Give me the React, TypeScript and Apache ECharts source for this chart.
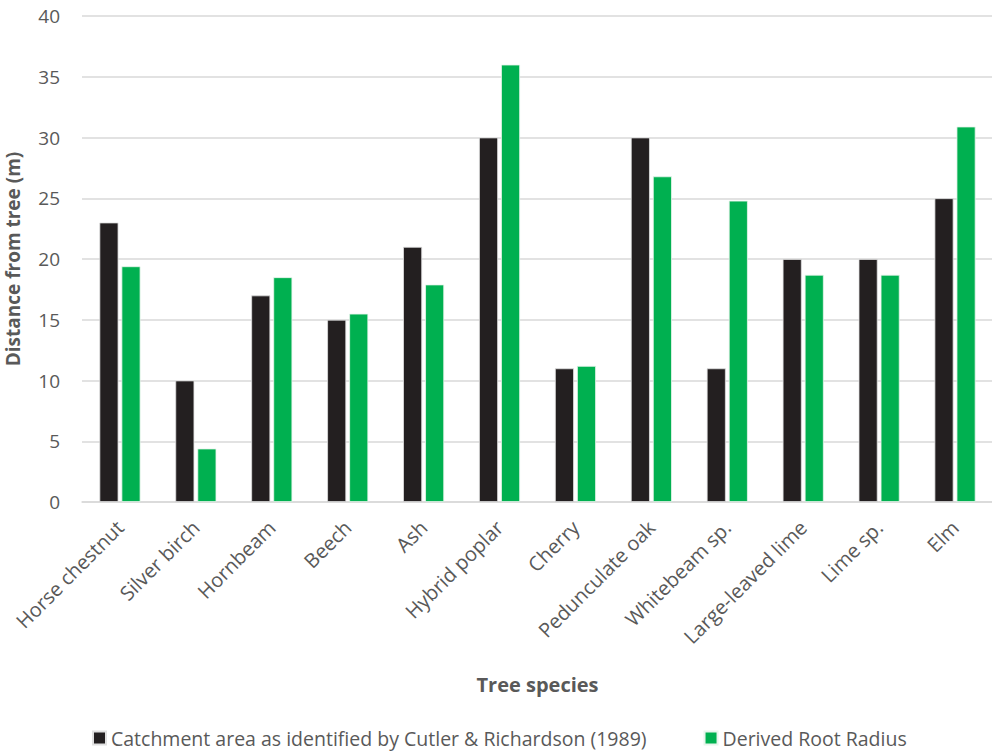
import React, { useEffect, useRef } from "react";
import * as echarts from "echarts";

const categories = [
  "Horse chestnut",
  "Silver birch",
  "Hornbeam",
  "Beech",
  "Ash",
  "Hybrid poplar",
  "Cherry",
  "Pedunculate oak",
  "Whitebeam sp.",
  "Large-leaved lime",
  "Lime sp.",
  "Elm",
];
const catchmentValues = [23, 10, 17, 15, 21, 30, 11, 30, 11, 20, 20, 25];
const rootRadiusValues = [19.4, 4.4, 18.5, 15.5, 17.9, 36.0, 11.2, 26.8, 24.8, 18.7, 18.7, 30.9];
const seriesNames = [
  "Catchment area as identified by Cutler & Richardson (1989)",
  "Derived Root Radius",
];

const FONT = "'Open Sans', 'Noto Sans', sans-serif";
const GRAY = "#595959";

export default function App() {
  const ref = useRef<HTMLDivElement>(null);
  useEffect(() => {
    document.body.style.margin = "0";
    if (!ref.current) return;
    const chart = echarts.init(ref.current, undefined, { renderer: "svg" });
    chart.setOption({
      animation: false,
      textStyle: { fontFamily: FONT },
      grid: { left: 82, right: -1, top: 16, bottom: 252, outerBoundsMode: "none", containLabel: false },
      legend: {
        bottom: 1,
        left: 87,
        icon: "rect",
        itemWidth: 13,
        itemHeight: 13,
        itemGap: 57,
        textStyle: { fontFamily: FONT, fontSize: 19.5, color: GRAY },
        data: seriesNames,
      },
      xAxis: {
        type: "category",
        data: categories,
        name: "Tree species",
        nameLocation: "middle",
        nameGap: 172,
        nameTextStyle: { fontFamily: FONT, fontSize: 20, fontWeight: "bold", color: GRAY },
        axisLine: { lineStyle: { color: "#d9d9d9", width: 1.5 } },
        axisTick: { show: false },
        axisLabel: { rotate: 45, fontSize: 20, color: GRAY, margin: 22, fontFamily: FONT },
      },
      yAxis: {
        type: "value",
        min: 0,
        max: 40,
        interval: 5,
        name: "Distance from tree (m)",
        nameLocation: "middle",
        nameGap: 60,
        nameTextStyle: { fontFamily: FONT, fontSize: 19, fontWeight: "bold", color: GRAY },
        axisLabel: { fontSize: 19, color: GRAY, margin: 22, fontFamily: FONT },
        splitLine: { lineStyle: { color: "#d9d9d9", width: 1.5 } },
        axisLine: { show: false },
        axisTick: { show: false },
      },
      series: [
        {
          name: seriesNames[0],
          type: "bar",
          data: catchmentValues,
          barWidth: 19,
          barGap: "16%",
          itemStyle: { color: "#231f20", borderColor: "#e0e0e0", borderWidth: 0.8 },
        },
        {
          name: seriesNames[1],
          type: "bar",
          data: rootRadiusValues,
          barWidth: 19,
          barGap: "16%",
          itemStyle: { color: "#00b050", borderColor: "#e8f5ec", borderWidth: 0.8 },
        },
      ],
    });
    return () => chart.dispose();
  }, []);
  return <div ref={ref} style={{ width: 992, height: 754 }} />;
}
